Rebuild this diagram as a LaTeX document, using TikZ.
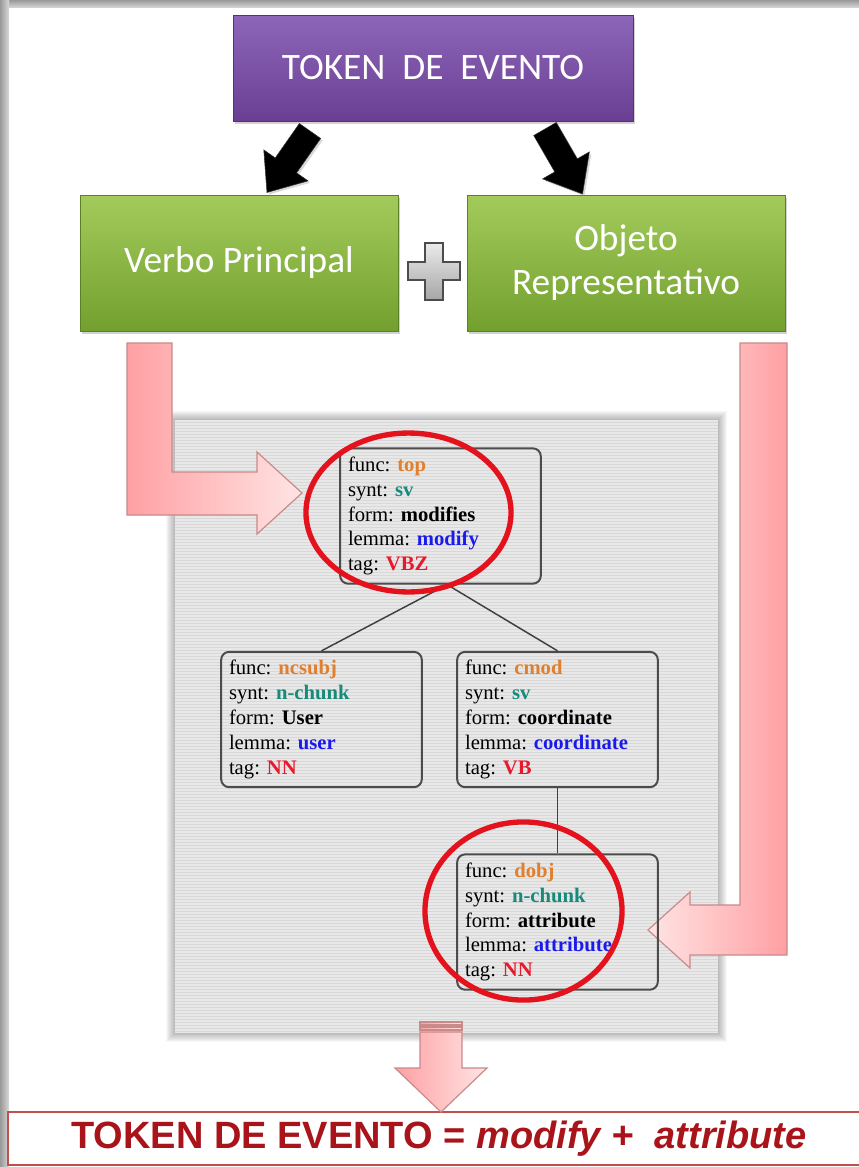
\documentclass[tikz,border=0pt]{standalone}
\usepackage{fontspec}
\setmainfont{Liberation Serif}
\newfontfamily\calibfont{Carlito}
\newfontfamily\arialfont{Liberation Sans}
\usetikzlibrary{shadows}
\definecolor{funcc}{HTML}{E07F2E}
\definecolor{syntc}{HTML}{178A7A}
\definecolor{lemmac}{HTML}{1A1AEB}
\definecolor{tagc}{HTML}{E8192C}
\definecolor{ovalred}{HTML}{E3121C}
\definecolor{pinkdark}{HTML}{FFA0A3}
\definecolor{pinklight}{HTML}{FFE4E4}
\definecolor{pinkedge}{HTML}{C98A8A}
\definecolor{resultred}{HTML}{A8141A}
\definecolor{resultedge}{HTML}{C0504D}
\definecolor{purpletop}{HTML}{8D66B9}
\definecolor{purplebot}{HTML}{6A3F93}
\definecolor{greentop}{HTML}{A3CB5C}
\definecolor{greenbot}{HTML}{72A02E}
\definecolor{panelgray}{HTML}{E8E8E8}
\definecolor{stripegray}{HTML}{D8D8D8}
\newcommand\fval[1]{\textcolor{funcc}{\textbf{#1}}}
\newcommand\sval[1]{\textcolor{syntc}{\textbf{#1}}}
\newcommand\lval[1]{\textcolor{lemmac}{\textbf{#1}}}
\newcommand\tval[1]{\textcolor{tagc}{\textbf{#1}}}
% tight word spacing for the tree labels
\newcommand\treefont{\fontsize{15.5pt}{18.6pt}\selectfont\frenchspacing\spaceskip=2.8pt plus 0.8pt\relax}
\begin{document}
\begin{tikzpicture}[x=0.75pt,y=-0.75pt,
  titlebox/.style={draw=#1, line width=0.75pt, text=white,
    drop shadow={shadow xshift=1.5pt, shadow yshift=-2pt, opacity=0.35},
    font=\calibfont\fontsize{28pt}{33pt}\selectfont, align=center},
  tbox/.style={draw=black!70, line width=1.5pt, rounded corners=6pt,
    minimum width=150.5pt, minimum height=101.5pt, text width=138.75pt,
    inner sep=0pt, align=left, font=\treefont},
  edge/.style={draw=black!75, line width=1.1pt},
  oval/.style={draw=ovalred, line width=4pt},
  pinkarrow/.style={draw=pinkedge, line width=0.9pt},
  blackarrow/.style={fill=black, draw=black!80,
    drop shadow={shadow xshift=1.5pt, shadow yshift=-1.5pt, opacity=0.3}},
]
\useasboundingbox (0,0) rectangle (859,1167);
\fill[white] (0,0) rectangle (859,1167);

% outer frame bands
\shade[top color=black!40, bottom color=black!18] (0,0) rectangle (859,7);
\shade[left color=black!40, right color=black!15] (0,0) rectangle (9,1167);

% header box
\node[titlebox=purplebot!80!black, top color=purpletop, bottom color=purplebot,
  minimum width=300pt, minimum height=79.5pt] (token) at (433,68)
  {TOKEN\ \ DE\ \ EVENTO};

% the two components
\node[titlebox=greenbot!80!black, top color=greentop, bottom color=greenbot,
  minimum width=238.5pt, minimum height=102pt] (verbo) at (239,263)
  {Verbo Principal};
\node[titlebox=greenbot!80!black, top color=greentop, bottom color=greenbot,
  minimum width=238.5pt, minimum height=102pt] (objeto) at (626,263)
  {Objeto\\Representativo};

% black block arrows from the header to the components
\begin{scope}[shift={(310,131)}, rotate=-125]
  \fill[blackarrow] (0,-13) -- (42,-13) -- (42,-27) -- (75,0) -- (42,27) -- (42,13) -- (0,13) -- cycle;
\end{scope}
\begin{scope}[shift={(545,129)}, rotate=-60]
  \fill[blackarrow] (0,-13) -- (42,-13) -- (42,-27) -- (75,0) -- (42,27) -- (42,13) -- (0,13) -- cycle;
\end{scope}

% plus sign
\draw[draw=black!70, line width=1.1pt, top color=black!8, bottom color=black!35]
  (425,243) -- (443,243) -- (443,262) -- (460,262) -- (460,280) -- (443,280)
  -- (443,300) -- (425,300) -- (425,280) -- (408,280) -- (408,262) -- (425,262) -- cycle;

% soft shadow around the parse panel
\foreach \d in {1,...,9}
  \fill[black, opacity=0.03] (175-\d,420-\d) rectangle (718+\d,1033+\d);
% striped parse panel
\fill[panelgray] (175,420) rectangle (718,1033);
\foreach \y in {422,425,...,1031}
  \draw[stripegray, line width=0.75pt] (175,\y) -- (718,\y);

% pink L-shaped arrows
\shade[pinkarrow, left color=pinkdark, right color=pinklight]
  (127,343) -- (172,343) -- (172,472) -- (257,472) -- (257,452) -- (302,493)
  -- (257,534) -- (257,515) -- (127,515) -- cycle;
\shade[pinkarrow, left color=pinklight, right color=pinkdark]
  (740,343) -- (787,343) -- (787,955) -- (690,955) -- (690,968) -- (648,930)
  -- (690,892) -- (690,905) -- (740,905) -- cycle;

% dependency tree
\node[tbox] (top) at (440.5,516)
  {func: \fval{top}\\ synt: \sval{sv}\\ form: \textbf{modifies}\\ lemma: \lval{modify}\\ tag: \tval{VBZ}};
\node[tbox] (ncsubj) at (321.5,719.5)
  {func: \fval{ncsubj}\\ synt: \sval{n-chunk}\\ form: \textbf{User}\\ lemma: \lval{user}\\ tag: \tval{NN}};
\node[tbox] (cmod) at (557.5,719.5)
  {func: \fval{cmod}\\ synt: \sval{sv}\\ form: \textbf{coordinate}\\ lemma: \lval{coordinate}\\ tag: \tval{VB}};
\node[tbox] (dobj) at (557.5,922)
  {func: \fval{dobj}\\ synt: \sval{n-chunk}\\ form: \textbf{attribute}\\ lemma: \lval{attribute}\\ tag: \tval{NN}};
\draw[edge] ([xshift=5pt]top.south) -- (ncsubj.north);
\draw[edge] ([xshift=5pt]top.south) -- (cmod.north);
\draw[edge] (cmod.south) -- (dobj.north);

% highlighted words
\draw[oval] (408.5,512.5) ellipse [x radius=76.9pt, y radius=59.6pt];
\draw[oval] (523.5,911) ellipse [x radius=73.9pt, y radius=66.8pt];

% result line
\node[draw=resultedge, line width=2.2pt, fill=white, minimum width=646.5pt,
  minimum height=39.75pt, inner sep=0pt, text=resultred,
  font=\arialfont\bfseries\fontsize{28.5pt}{32pt}\selectfont] (result) at (439,1138.5)
  {TOKEN DE EVENTO = \textit{modify +\ \ attribute}};

% striped arrow down to the result
\shade[pinkarrow, left color=pinkdark, right color=pinklight]
  (420,1032) -- (462,1032) -- (462,1068) -- (487,1068) -- (441,1112)
  -- (395,1068) -- (420,1068) -- cycle;
\shade[pinkarrow, left color=pinkdark, right color=pinklight] (420,1022) rectangle (462,1025);
\shade[pinkarrow, left color=pinkdark, right color=pinklight] (420,1027) rectangle (462,1030);
\end{tikzpicture}
\end{document}
